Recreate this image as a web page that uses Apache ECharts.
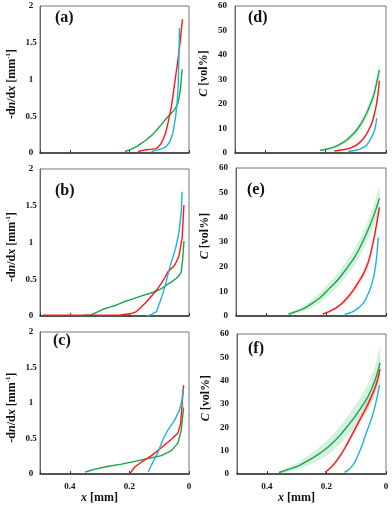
<!DOCTYPE html>
<html><head><meta charset="utf-8">
<script src="https://cdn.jsdelivr.net/npm/echarts/dist/echarts.min.js"></script>
<style>html,body{margin:0;padding:0;background:#fff}#c{width:392px;height:505px}</style>
</head><body><div id="c"></div>
<script>
// ---- data: [x (mm), value] ----
// Panel (a) -dn/dx
const aGreen = [[0.215,0.02],[0.195,0.05],[0.176,0.086],[0.16,0.13],[0.143,0.18],[0.125,0.24],[0.109,0.31],[0.092,0.39],[0.076,0.47],[0.06,0.54],[0.048,0.59],[0.037,0.68],[0.032,0.78],[0.028,0.90],[0.023,1.14]];
const aRed   = [[0.171,0.02],[0.15,0.04],[0.13,0.05],[0.109,0.06],[0.095,0.12],[0.087,0.18],[0.078,0.28],[0.071,0.40],[0.059,0.63],[0.048,0.95],[0.037,1.27],[0.029,1.54],[0.022,1.82]];
const aCyan  = [[0.126,0.02],[0.11,0.04],[0.09,0.06],[0.076,0.09],[0.065,0.15],[0.054,0.27],[0.045,0.49],[0.039,0.72],[0.036,0.95],[0.034,1.27],[0.032,1.70]];
// Panel (b)
const bGreen = [[0.365,0.0],[0.33,0.014],[0.31,0.05],[0.287,0.095],[0.265,0.12],[0.243,0.15],[0.22,0.19],[0.198,0.22],[0.176,0.25],[0.154,0.28],[0.13,0.31],[0.109,0.34],[0.09,0.38],[0.076,0.42],[0.06,0.46],[0.043,0.51],[0.033,0.55],[0.026,0.60],[0.021,0.78],[0.017,1.02]];
const bRed   = [[0.49,0.01],[0.4,0.01],[0.3,0.01],[0.23,0.015],[0.198,0.03],[0.176,0.06],[0.143,0.19],[0.109,0.35],[0.087,0.48],[0.071,0.60],[0.048,0.69],[0.034,0.81],[0.023,1.06],[0.017,1.51]];
const bCyan  = [[0.143,0.0],[0.132,0.01],[0.109,0.06],[0.093,0.24],[0.082,0.38],[0.071,0.56],[0.059,0.74],[0.045,0.92],[0.034,1.13],[0.026,1.41],[0.023,1.69]];
// Panel (c)
const cGreen = [[0.348,0.03],[0.315,0.07],[0.27,0.11],[0.226,0.14],[0.182,0.18],[0.137,0.22],[0.093,0.26],[0.059,0.33],[0.037,0.44],[0.026,0.62],[0.018,0.94]];
const cRed   = [[0.198,0.01],[0.182,0.10],[0.159,0.17],[0.126,0.26],[0.093,0.37],[0.059,0.49],[0.037,0.58],[0.028,0.71],[0.024,0.94],[0.018,1.25]];
const cCyan  = [[0.137,0.03],[0.121,0.17],[0.104,0.31],[0.087,0.49],[0.071,0.62],[0.048,0.76],[0.032,0.90],[0.024,1.03],[0.019,1.2]];
// Panel (d) C [vol%]
const dGreen = [[0.218,1],[0.196,1.6],[0.174,2.3],[0.152,3.6],[0.13,5.3],[0.113,7.2],[0.097,9.4],[0.08,12.5],[0.064,16.2],[0.053,19.5],[0.042,23],[0.032,28],[0.022,33.8]];
const dGreenBand = [0.3,0.4,0.5,0.7,0.9,1.1,1.3,1.6,1.9,2.1,2.3,2.6,3.0];
const dRed   = [[0.171,0.8],[0.15,1.2],[0.13,1.6],[0.113,2.3],[0.097,3.3],[0.083,4.8],[0.07,6.7],[0.058,9.2],[0.047,12.1],[0.04,15.2],[0.033,18.9],[0.027,23.5],[0.022,29.5]];
const dRedBand = [0.2,0.3,0.4,0.5,0.6,0.7,0.8,0.9,1.0,1.1,1.2,1.3,1.5];
const dCyan  = [[0.125,0.6],[0.105,1.0],[0.086,1.6],[0.075,2.3],[0.064,3.3],[0.055,4.8],[0.047,6.7],[0.041,8.3],[0.036,10],[0.031,14.2]];
const dCyanBand = [0.2,0.3,0.3,0.4,0.4,0.5,0.5,0.6,0.6,0.7];
// Panel (e)
const eGreen = [[0.325,0.7],[0.3,1.8],[0.273,3.1],[0.245,5.2],[0.216,7.8],[0.19,11],[0.161,14.6],[0.133,19],[0.104,24],[0.082,29],[0.06,34.9],[0.04,41],[0.022,47.7]];
const eGreenBand = [0.4,0.8,1.2,1.6,2.0,2.4,2.7,3.0,3.3,3.6,3.9,4.2,4.6];
const eRed   = [[0.211,0.8],[0.19,1.8],[0.17,3.0],[0.15,4.8],[0.13,7.2],[0.11,10.3],[0.09,14],[0.075,17.2],[0.06,21.5],[0.048,27],[0.036,34],[0.022,44]];
const eRedBand = [0.2,0.4,0.6,0.8,1.0,1.2,1.4,1.5,1.6,1.7,1.8,2.0];
const eCyan  = [[0.138,0.7],[0.125,1.1],[0.11,1.8],[0.093,3.2],[0.076,5.1],[0.065,7.5],[0.054,10.5],[0.045,14],[0.037,18.6],[0.031,24],[0.026,31.8]];
// Panel (f)
const fGreen = [[0.359,0.7],[0.33,1.9],[0.296,3.4],[0.268,5.3],[0.239,7.5],[0.21,10],[0.182,13],[0.153,16.8],[0.125,21.2],[0.1,25.4],[0.079,29.3],[0.06,33.3],[0.045,37.5],[0.032,42],[0.02,47.7]];
const fGreenBand = [0.5,1.0,1.5,2.0,2.5,3.0,3.4,3.8,4.2,4.6,5.0,5.4,5.8,6.2,6.8];
const fRed   = [[0.205,0.7],[0.188,2.5],[0.171,4.8],[0.153,8],[0.136,11.6],[0.119,15.6],[0.102,19.8],[0.085,23.9],[0.068,28],[0.053,32],[0.039,36.2],[0.028,40.5],[0.02,45]];
const fRedBand = [0.3,0.5,0.7,0.9,1.1,1.3,1.5,1.7,1.9,2.0,2.1,2.2,2.3];
const fCyan  = [[0.139,0.7],[0.126,1.8],[0.114,3.4],[0.102,5.8],[0.091,8.9],[0.079,12.8],[0.068,17],[0.056,21.1],[0.045,25.2],[0.033,31],[0.022,38.2]];

const panelLabels = ['(a)','(b)','(c)','(d)','(e)','(f)'];

// ---- styling ----
const FONT = '"Liberation Serif", "Times New Roman", serif';
const GREEN = '#19a449', RED = '#ff1616', CYAN = '#1db4d4';
const GREEN_FILL = 'rgba(40,180,90,0.2)', RED_FILL = 'rgba(255,90,90,0.2)', CYAN_FILL = 'rgba(30,180,212,0.15)';

const grids = [
  {left:40, top:6,   width:149, height:147},
  {left:40, top:169, width:149, height:147},
  {left:40, top:332, width:149, height:147},
  {left:235, top:6,   width:151, height:147},
  {left:236, top:168, width:150, height:148},
  {left:237, top:334, width:149, height:147}
];
grids.forEach(g => { g.show = true; g.borderColor = '#777'; g.borderWidth = 1; g.containLabel = false; });

const baseText = {fontFamily: FONT, fontWeight: 'bold', color: '#111'};

const xAxes = grids.map((g, i) => {
  const bottom = (i === 2 || i === 5);
  return {
    gridIndex: i, type: 'value', min: 0, max: 0.5, interval: 0.2, inverse: true,
    axisLine: {show: true, onZero: false, lineStyle: {color: '#333', width: 1.5}},
    axisTick: {show: true, inside: true, length: 3, lineStyle: {color: '#333'}},
    splitLine: {show: false},
    axisLabel: {show: bottom, ...baseText, fontSize: 9, margin: 8,
      formatter: v => (v >= 0.5 ? '' : String(+v.toFixed(1)))},
    name: bottom ? '{i|x} [mm]' : '',
    nameLocation: 'middle', nameGap: 7,
    nameTextStyle: {...baseText, fontSize: 12, padding: [0, 30, 0, 0],
      rich: {i: {...baseText, fontSize: 12, fontStyle: 'italic'}}}
  };
});

const yAxes = grids.map((g, i) => {
  const left = i < 3;
  return {
    gridIndex: i, type: 'value', min: 0, max: left ? 2 : 60, interval: left ? 0.5 : 10,
    axisLine: {show: true, onZero: false, lineStyle: {color: '#666', width: 1}},
    axisTick: {show: false},
    splitLine: {show: false},
    axisLabel: {...baseText, fontSize: 9, margin: left ? 9 : 8, align: left ? 'center' : 'right'},
    name: left ? '-d{i|n}/d{i|x} [mm{s|-1}]' : '{i|C} [vol%]',
    nameLocation: 'middle', nameGap: left ? 22 : 25,
    nameTextStyle: {...baseText, fontSize: 12,
      padding: left ? [0, 9, 0, 0] : [0, 0, 0, 12],
      rich: {
        i: {...baseText, fontSize: 12, fontStyle: 'italic'},
        s: {...baseText, fontSize: 7, padding: [0, 0, 6, 0]}
      }}
  };
});

function lineSeries(idx, data, color, smooth) {
  return {type: 'line', xAxisIndex: idx, yAxisIndex: idx, data: data,
    showSymbol: false, symbol: 'none', smooth: smooth, z: 3, silent: true,
    lineStyle: {color: color, width: 1.4}};
}
function bandSeries(idx, data, widths, fill) {
  const band = data.map((p, k) => [p[0], Math.max(0, p[1] - widths[k]), p[1] + widths[k]]);
  return {type: 'custom', xAxisIndex: idx, yAxisIndex: idx, data: band,
    encode: {x: 0, y: [1, 2]}, silent: true, z: 1, clip: true,
    renderItem: (params, api) => {
      if (params.dataIndex !== 0) return null;
      const pts = [];
      for (let k = 0; k < band.length; k++) pts.push(api.coord([band[k][0], band[k][2]]));
      for (let k = band.length - 1; k >= 0; k--) pts.push(api.coord([band[k][0], band[k][1]]));
      return {type: 'polygon', shape: {points: pts, smooth: 0.2}, style: {fill: fill}};
    }};
}

const series = [
  lineSeries(0, aGreen, GREEN, false), lineSeries(0, aRed, RED, false), lineSeries(0, aCyan, CYAN, false),
  lineSeries(1, bGreen, GREEN, false), lineSeries(1, bRed, RED, false), lineSeries(1, bCyan, CYAN, false),
  lineSeries(2, cGreen, GREEN, false), lineSeries(2, cRed, RED, false), lineSeries(2, cCyan, CYAN, false),
  bandSeries(3, dGreen, dGreenBand, GREEN_FILL), bandSeries(3, dRed, dRedBand, RED_FILL), bandSeries(3, dCyan, dCyanBand, CYAN_FILL),
  lineSeries(3, dGreen, GREEN, 0.3), lineSeries(3, dRed, RED, 0.3), lineSeries(3, dCyan, CYAN, 0.3),
  bandSeries(4, eGreen, eGreenBand, GREEN_FILL), bandSeries(4, eRed, eRedBand, RED_FILL),
  lineSeries(4, eGreen, GREEN, 0.3), lineSeries(4, eRed, RED, 0.3), lineSeries(4, eCyan, CYAN, 0.3),
  bandSeries(5, fGreen, fGreenBand, GREEN_FILL), bandSeries(5, fRed, fRedBand, RED_FILL),
  lineSeries(5, fGreen, GREEN, 0.3), lineSeries(5, fRed, RED, 0.3), lineSeries(5, fCyan, CYAN, 0.3)
];

const labelPos = [[55,10],[55,183],[53,333],[248,10],[247,182],[248,341]];
const graphic = panelLabels.map((t, i) => ({
  type: 'text', left: labelPos[i][0], top: labelPos[i][1], z: 10,
  style: {text: t, font: 'bold 16px ' + FONT, fill: '#111'}
}));

const chart = echarts.init(document.getElementById('c'), null, {renderer: 'canvas'});
chart.setOption({
  animation: false,
  backgroundColor: '#fff',
  grid: grids, xAxis: xAxes, yAxis: yAxes, series: series, graphic: graphic
});
</script>
</body></html>
